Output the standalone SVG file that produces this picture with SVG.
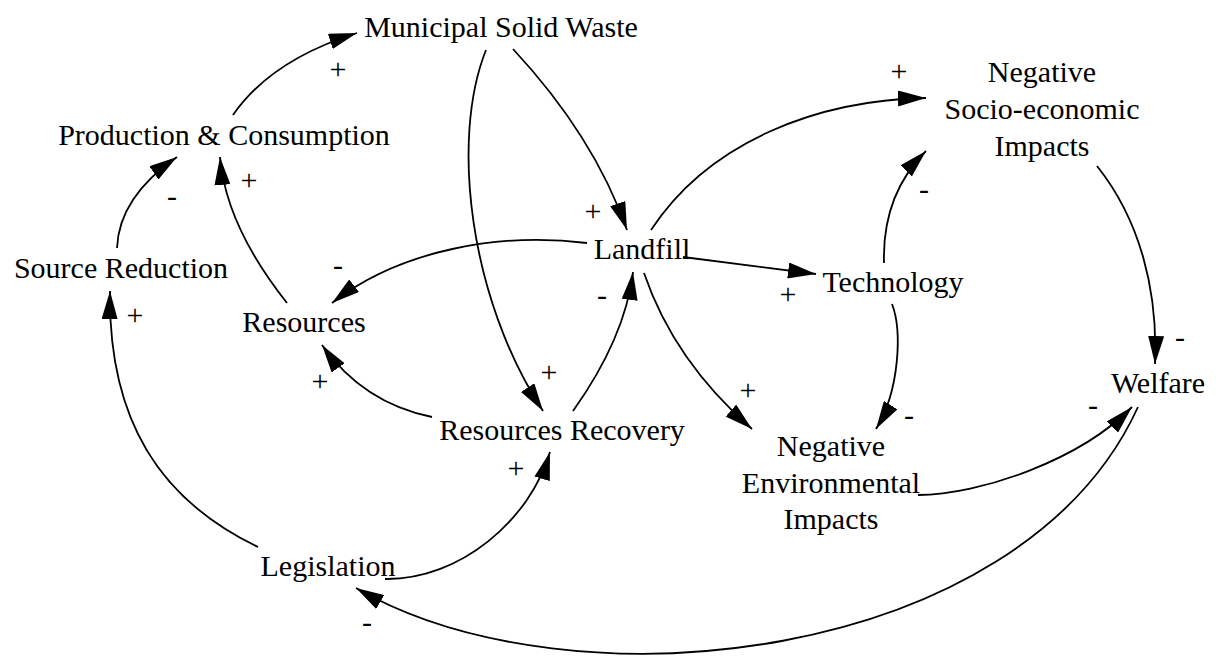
<svg xmlns="http://www.w3.org/2000/svg" width="1216" height="656" viewBox="0 0 1216 656">
<style>
.node{font-family:"Liberation Serif","Times New Roman",serif;font-size:30px;fill:#000;text-anchor:middle}
.pol{font-family:"Liberation Serif","Times New Roman",serif;font-size:30px;fill:#000;text-anchor:middle}
.link{fill:none;stroke:#000;stroke-width:1.8;marker-end:url(#ah)}
</style>
<defs>
<marker id="ah" viewBox="0 0 28 16" refX="28" refY="8" markerWidth="28" markerHeight="16" markerUnits="userSpaceOnUse" orient="auto">
<path d="M0,0 L28,8 L0,16 Z" fill="#000"/>
</marker>
</defs>
<rect width="1216" height="656" fill="#fff"/>
<g id="connectors">
<path class="link" d="M233,115 Q271,60 357,33"/>
<path class="link" d="M117,248 Q119,197 177,157"/>
<path class="link" d="M287,303 Q226,226 220,157"/>
<path class="link" d="M513,49 Q594,136 627,230"/>
<path class="link" d="M486,50 C450,140 470,300 543,411"/>
<path class="link" d="M587,243 C500,232 400,250 332,303"/>
<path class="link" d="M573,411 Q625,338 633,272"/>
<path class="link" d="M432,417 Q363,403 322,345"/>
<path class="link" d="M385,579 C460,580 530,520 550,452"/>
<path class="link" d="M258,547 C160,500 108,420 110,291"/>
<path class="link" d="M683,257 L816,274"/>
<path class="link" d="M651,230 C710,140 820,100 926,98"/>
<path class="link" d="M884,263 Q882,195 926,151"/>
<path class="link" d="M892,304 C902,330 900,390 876,429"/>
<path class="link" d="M644,273 Q674,361 752,429"/>
<path class="link" d="M1097,166 C1140,220 1158,290 1155,364"/>
<path class="link" d="M918,495 C980,495 1080,460 1132,407"/>
<path class="link" d="M1138,407 C1020,665 570,712 356,588"/>
</g>
<g id="polarities">
<text class="pol" x="338" y="79">+</text>
<text class="pol" x="172" y="206">-</text>
<text class="pol" x="249" y="190">+</text>
<text class="pol" x="338" y="275">-</text>
<text class="pol" x="135" y="325">+</text>
<text class="pol" x="593" y="221">+</text>
<text class="pol" x="788" y="304">+</text>
<text class="pol" x="602" y="305">-</text>
<text class="pol" x="899" y="81">+</text>
<text class="pol" x="924" y="199">-</text>
<text class="pol" x="1180" y="347">-</text>
<text class="pol" x="909" y="425">-</text>
<text class="pol" x="1093" y="415">-</text>
<text class="pol" x="549" y="382">+</text>
<text class="pol" x="748" y="400">+</text>
<text class="pol" x="516" y="478">+</text>
<text class="pol" x="320" y="391">+</text>
<text class="pol" x="367" y="632">-</text>
</g>
<g id="msw"><text class="node" x="501" y="37">Municipal Solid Waste</text></g>
<g id="production"><text class="node" x="224" y="145">Production &amp; Consumption</text></g>
<g id="source-reduction"><text class="node" x="121" y="278">Source Reduction</text></g>
<g id="resources"><text class="node" x="304" y="332">Resources</text></g>
<g id="landfill"><text class="node" x="642" y="259">Landfill</text></g>
<g id="technology"><text class="node" x="893" y="292">Technology</text></g>
<g id="neg-socio"><text class="node" x="1042" y="82">Negative</text><text class="node" x="1042" y="119">Socio-economic</text><text class="node" x="1042" y="156">Impacts</text></g>
<g id="welfare"><text class="node" x="1158" y="393">Welfare</text></g>
<g id="resources-recovery"><text class="node" x="562" y="440">Resources Recovery</text></g>
<g id="neg-env"><text class="node" x="831" y="456">Negative</text><text class="node" x="831" y="493">Environmental</text><text class="node" x="831" y="529">Impacts</text></g>
<g id="legislation"><text class="node" x="328" y="576">Legislation</text></g>
</svg>
